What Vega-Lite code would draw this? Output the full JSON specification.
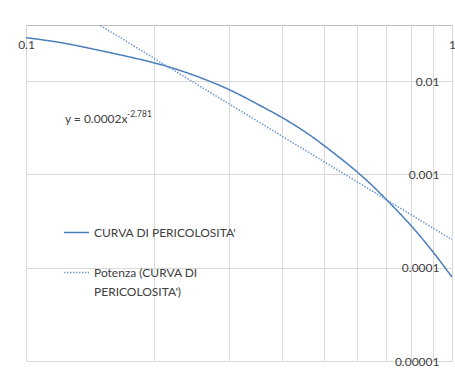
{
  "$schema": "https://vega.github.io/schema/vega-lite/v6.json",
  "width": 426,
  "height": 336,
  "autosize": {"type": "none"},
  "padding": {"left": 26, "top": 25, "right": 3, "bottom": 10},
  "background": "white",
  "config": {
    "view": {"stroke": "#bfbfbf", "strokeWidth": 1},
    "font": "Lato",
    "axis": {
      "labelFont": "Lato",
      "labelFontSize": 12,
      "labelColor": "#404040",
      "gridColor": "#d9d9d9",
      "gridWidth": 1,
      "domain": false,
      "ticks": false,
      "tickSize": 0,
      "title": null,
      "labelFlush": false,
      "labelOverlap": false,
      "labelBound": false
    },
    "legend": {
      "labelFont": "Lato",
      "labelFontSize": 12,
      "labelColor": "#404040",
      "padding": 0,
      "offset": 0
    }
  },
  "datasets": {
    "serie": [
      {"x": 0.1, "y": 0.0292, "serie": "CURVA DI PERICOLOSITA'"},
      {"x": 0.12, "y": 0.026, "serie": "CURVA DI PERICOLOSITA'"},
      {"x": 0.15, "y": 0.0212, "serie": "CURVA DI PERICOLOSITA'"},
      {"x": 0.2, "y": 0.0157, "serie": "CURVA DI PERICOLOSITA'"},
      {"x": 0.25, "y": 0.0114, "serie": "CURVA DI PERICOLOSITA'"},
      {"x": 0.3, "y": 0.0081, "serie": "CURVA DI PERICOLOSITA'"},
      {"x": 0.35, "y": 0.00565, "serie": "CURVA DI PERICOLOSITA'"},
      {"x": 0.4, "y": 0.00405, "serie": "CURVA DI PERICOLOSITA'"},
      {"x": 0.45, "y": 0.0029, "serie": "CURVA DI PERICOLOSITA'"},
      {"x": 0.5, "y": 0.00205, "serie": "CURVA DI PERICOLOSITA'"},
      {"x": 0.6, "y": 0.001056, "serie": "CURVA DI PERICOLOSITA'"},
      {"x": 0.7, "y": 0.000543, "serie": "CURVA DI PERICOLOSITA'"},
      {"x": 0.8, "y": 0.000285, "serie": "CURVA DI PERICOLOSITA'"},
      {"x": 0.9, "y": 0.00015, "serie": "CURVA DI PERICOLOSITA'"},
      {"x": 1.0, "y": 0.0000793, "serie": "CURVA DI PERICOLOSITA'"},
      {"x": 0.1, "y": 0.12079, "serie": "Potenza (CURVA DI PERICOLOSITA')"},
      {"x": 0.2, "y": 0.01757, "serie": "Potenza (CURVA DI PERICOLOSITA')"},
      {"x": 0.5, "y": 0.0013746, "serie": "Potenza (CURVA DI PERICOLOSITA')"},
      {"x": 1.0, "y": 0.0002, "serie": "Potenza (CURVA DI PERICOLOSITA')"}
    ],
    "equazione": [
      {"testo": "y = 0.0002x", "esponente": "-2.781"}
    ]
  },
  "layer": [
    {
      "data": {"name": "serie"},
      "mark": {"type": "line", "interpolate": "natural", "strokeWidth": 1.5, "clip": true},
      "encoding": {
        "x": {
          "field": "x",
          "type": "quantitative",
          "scale": {"type": "log", "domain": [0.1, 1], "nice": false},
          "axis": {
            "orient": "top",
            "values": [0.1, 0.2, 0.3, 0.4, 0.5, 0.6, 0.7, 0.8, 0.9, 1],
            "labelExpr": "datum.value == 0.1 ? '0.1' : (datum.value == 1 ? '1' : '')",
            "labelPadding": -19,
            "labelBaseline": "middle",
            "labelAlign": "center"
          }
        },
        "y": {
          "field": "y",
          "type": "quantitative",
          "scale": {"type": "log", "domain": [0.00001, 0.04], "nice": false},
          "axis": {
            "orient": "right",
            "values": [0.00001, 0.0001, 0.001, 0.01],
            "labelExpr": "datum.value < 0.00002 ? '0.00001' : (datum.value < 0.0002 ? '0.0001' : (datum.value < 0.002 ? '0.001' : '0.01'))",
            "labelPadding": -13,
            "labelAlign": "right",
            "labelBaseline": "middle"
          }
        },
        "color": {
          "field": "serie",
          "type": "nominal",
          "scale": {
            "domain": ["CURVA DI PERICOLOSITA'", "Potenza (CURVA DI PERICOLOSITA')"],
            "range": ["#4a7ebb", "#6b9bd2"]
          },
          "legend": {
            "orient": "none",
            "legendX": 37,
            "legendY": 194,
            "title": null,
            "symbolType": "stroke",
            "symbolSize": 625,
            "symbolStrokeWidth": 1.5,
            "labelOffset": 4,
            "labelLimit": 0,
            "rowPadding": 20,
            "labelExpr": "datum.label != \"CURVA DI PERICOLOSITA'\" ? ['Potenza (CURVA DI', \"PERICOLOSITA')\"] : datum.label",
            "encode": {"labels": {"update": {"lineHeight": {"value": 19}}}}
          }
        },
        "strokeDash": {
          "field": "serie",
          "type": "nominal",
          "scale": {
            "domain": ["CURVA DI PERICOLOSITA'", "Potenza (CURVA DI PERICOLOSITA')"],
            "range": [[1, 0], [1.5, 1.5]]
          },
          "legend": {
            "orient": "none",
            "legendX": 37,
            "legendY": 194,
            "title": null,
            "symbolType": "stroke",
            "symbolSize": 625,
            "symbolStrokeWidth": 1.5,
            "labelOffset": 4,
            "labelLimit": 0,
            "rowPadding": 20,
            "labelExpr": "datum.label != \"CURVA DI PERICOLOSITA'\" ? ['Potenza (CURVA DI', \"PERICOLOSITA')\"] : datum.label",
            "encode": {"labels": {"update": {"lineHeight": {"value": 19}}}}
          }
        }
      }
    },
    {
      "data": {"name": "equazione"},
      "mark": {"type": "text", "align": "left", "baseline": "middle", "fontSize": 12, "font": "Lato", "color": "#404040"},
      "encoding": {
        "x": {"datum": 0.1234, "type": "quantitative"},
        "y": {"datum": 0.00393, "type": "quantitative"},
        "text": {"field": "testo"}
      }
    },
    {
      "data": {"name": "equazione"},
      "mark": {"type": "text", "align": "left", "baseline": "middle", "fontSize": 8.5, "font": "Lato", "color": "#404040"},
      "encoding": {
        "x": {"datum": 0.1726, "type": "quantitative"},
        "y": {"datum": 0.00444, "type": "quantitative"},
        "text": {"field": "esponente"}
      }
    }
  ]
}
